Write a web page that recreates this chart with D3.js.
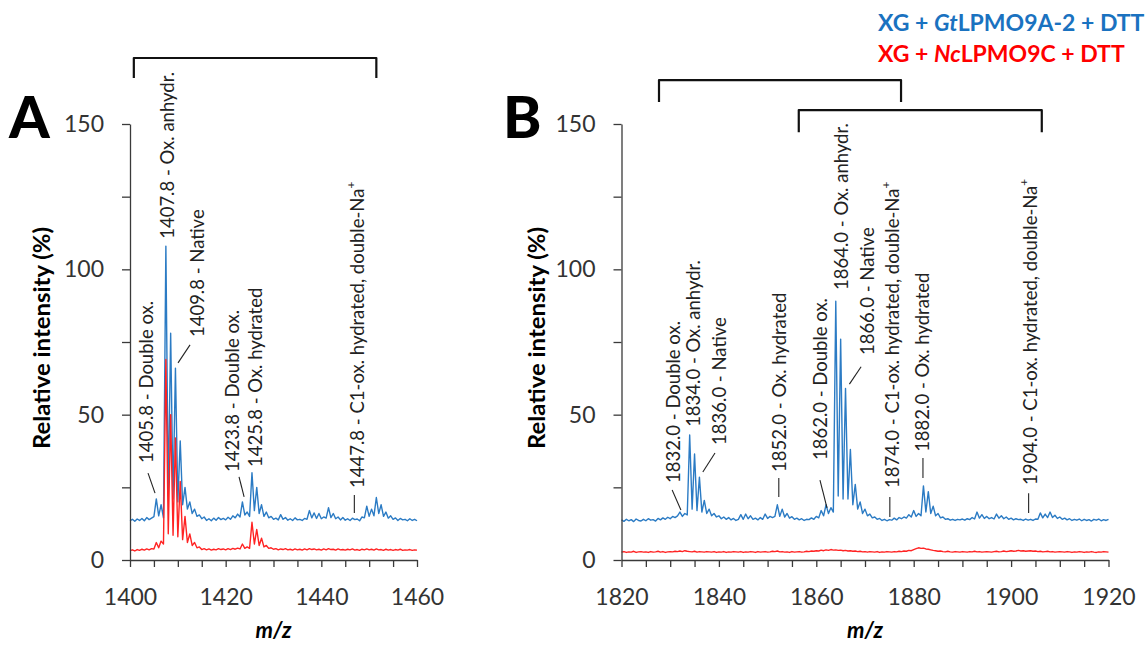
<!DOCTYPE html>
<html><head><meta charset="utf-8">
<script src="https://cdn.jsdelivr.net/npm/d3@7"></script>
<style>body{margin:0;background:#fff;} svg{display:block;font-family:Lato,'Open Sans',sans-serif;}</style>
</head><body><svg id="c" width="1148" height="646"></svg>
<script>
// ---------- DATA ----------
const mzA = [1400,1400.5,1401,1401.5,1402,1402.5,1403,1403.5,1404,1404.5,1405,1405.5,1406,1406.5,1407,1407.5,1408,1408.5,1409,1409.5,1410,1410.5,1411,1411.5,1412,1412.5,1413,1413.5,1414,1414.5,1415,1415.5,1416,1416.5,1417,1417.5,1418,1418.5,1419,1419.5,1420,1420.5,1421,1421.5,1422,1422.5,1423,1423.5,1424,1424.5,1425,1425.5,1426,1426.5,1427,1427.5,1428,1428.5,1429,1429.5,1430,1430.5,1431,1431.5,1432,1432.5,1433,1433.5,1434,1434.5,1435,1435.5,1436,1436.5,1437,1437.5,1438,1438.5,1439,1439.5,1440,1440.5,1441,1441.5,1442,1442.5,1443,1443.5,1444,1444.5,1445,1445.5,1446,1446.5,1447,1447.5,1448,1448.5,1449,1449.5,1450,1450.5,1451,1451.5,1452,1452.5,1453,1453.5,1454,1454.5,1455,1455.5,1456,1456.5,1457,1457.5,1458,1458.5,1459,1459.5,1460];
const blueA = [13.5,14.0,13.3,14.1,13.6,14.3,13.5,14.6,13.9,14.4,
14.9,21.0,15.2,19.0,14.5,108,22,78,21,66,
20,41,19,25,17.5,20,16,17.5,15,15.5,
14.2,14.8,13.6,14.2,13.5,14.4,13.7,14.6,13.9,14.3,
13.8,14.7,14.0,15.2,14.5,15.8,14.8,20.0,15.5,16.5,
15.0,30.0,17.0,25.0,16.0,19.0,15.0,16.5,14.5,15.0,
14.0,14.4,13.8,15.6,14.0,14.6,13.7,14.2,13.6,14.5,
13.8,14.0,13.6,14.3,14.0,17.0,14.5,16.2,14.3,16.0,
14.2,14.8,14.4,18.0,14.6,16.0,14.2,14.8,13.8,14.6,
13.7,14.2,13.6,14.4,13.9,14.1,13.5,14.8,14.5,18.5,
15.0,17.5,15.2,21.5,16.0,19.0,15.0,16.5,14.4,15.2,
14.0,14.5,13.6,14.3,13.8,14.0,13.5,14.2,13.6,14.0,
13.5];
const redA = [3.2,3.5,3.1,3.6,3.3,3.7,3.4,3.8,3.5,3.9,
3.8,6.0,4.2,6.5,5.5,69,9,50,8.5,42,
8,27,7,15,6,9,5,6,4.2,4.5,
3.6,3.9,3.5,3.8,3.4,3.7,3.5,3.9,3.6,3.8,
3.5,3.9,3.6,4.0,3.7,4.1,3.8,5.5,4.0,4.5,
4.0,13,5.5,10.5,5.0,7.5,4.5,5.0,4.0,4.2,
3.7,3.9,3.5,3.8,3.6,3.9,3.5,3.7,3.4,3.8,
3.5,3.7,3.4,3.8,3.5,3.9,3.6,3.8,3.5,3.7,
3.4,3.8,3.5,3.9,3.6,3.7,3.4,3.8,3.5,3.6,
3.4,3.7,3.5,3.8,3.4,3.6,3.3,3.7,3.5,3.8,
3.5,3.7,3.4,3.8,3.5,3.6,3.3,3.7,3.4,3.6,
3.3,3.6,3.4,3.7,3.3,3.5,3.4,3.6,3.3,3.5,
3.4];

const mzB = [1820,1820.5,1821,1821.5,1822,1822.5,1823,1823.5,1824,1824.5,1825,1825.5,1826,1826.5,1827,1827.5,1828,1828.5,1829,1829.5,
1830,1830.5,1831,1831.5,1832,1832.5,1833,1833.5,1834,1834.5,1835,1835.5,1836,1836.5,1837,1837.5,1838,1838.5,1839,1839.5,
1840,1840.5,1841,1841.5,1842,1842.5,1843,1843.5,1844,1844.5,1845,1845.5,1846,1846.5,1847,1847.5,1848,1848.5,1849,1849.5,
1850,1850.5,1851,1851.5,1852,1852.5,1853,1853.5,1854,1854.5,1855,1855.5,1856,1856.5,1857,1857.5,1858,1858.5,1859,1859.5,
1860,1860.5,1861,1861.5,1862,1862.5,1863,1863.5,1864,1864.5,1865,1865.5,1866,1866.5,1867,1867.5,1868,1868.5,1869,1869.5,
1870,1870.5,1871,1871.5,1872,1872.5,1873,1873.5,1874,1874.5,1875,1875.5,1876,1876.5,1877,1877.5,1878,1878.5,1879,1879.5,
1880,1880.5,1881,1881.5,1882,1882.5,1883,1883.5,1884,1884.5,1885,1885.5,1886,1886.5,1887,1887.5,1888,1888.5,1889,1889.5,
1890,1890.5,1891,1891.5,1892,1892.5,1893,1893.5,1894,1894.5,1895,1895.5,1896,1896.5,1897,1897.5,1898,1898.5,1899,1899.5,
1900,1900.5,1901,1901.5,1902,1902.5,1903,1903.5,1904,1904.5,1905,1905.5,1906,1906.5,1907,1907.5,1908,1908.5,1909,1909.5,
1910,1910.5,1911,1911.5,1912,1912.5,1913,1913.5,1914,1914.5,1915,1915.5,1916,1916.5,1917,1917.5,1918,1918.5,1919,1919.5,
1920];
const blueB = [13.8,13.3,14.0,13.5,13.9,13.2,14.1,13.6,13.4,14.0,
13.5,14.2,13.7,13.9,13.4,14.3,13.8,14.5,14.0,14.7,
14.2,15.0,14.6,15.2,16.5,15.0,16.0,15.5,43,17.5,
36.5,17.0,28.5,16.5,20.5,16.0,17.5,15.2,16.0,14.8,
15.2,14.2,14.8,14.0,14.6,13.8,14.3,13.6,14.0,15.6,
14.0,15.8,14.2,15.2,14.0,14.4,13.8,14.6,14.0,15.8,
14.3,15.0,14.6,15.0,19.0,15.0,17.5,14.8,16.0,14.4,
14.9,14.0,14.4,13.8,14.2,13.6,14.0,13.9,14.5,14.0,
15.0,14.5,17.0,15.2,19.0,16.0,18.0,16.5,89,22,
76,21,59,21,38,19,26,17.5,20,16,
17.5,15.2,15.8,14.5,14.8,14.0,14.3,13.6,14.0,13.5,
13.9,13.7,14.4,13.8,14.6,14.2,14.8,14.4,15.6,14.8,
17.0,15.0,16.0,15.2,25.5,16.5,23.5,16.0,18.5,15.2,
16.0,14.5,14.8,14.0,14.2,13.7,14.0,13.6,14.0,13.8,
14.1,13.7,14.2,13.9,14.6,14.1,16.5,14.4,15.6,14.3,
15.0,14.2,14.6,14.1,15.8,14.4,15.2,14.2,14.8,14.0,
14.4,13.8,14.2,13.9,14.0,13.6,14.1,13.7,14.0,13.6,
14.1,14.0,16.2,14.5,15.8,14.6,16.5,14.6,15.4,14.3,
14.8,14.0,14.4,13.8,14.2,13.6,14.0,13.7,14.1,13.5,
14.0,13.6,13.9,13.4,14.0,13.7,14.1,13.5,13.9,13.6,
14.0];
const redB = [2.7,2.9,2.6,2.8,2.7,3.0,2.6,2.8,2.9,2.7,
2.8,2.6,2.9,2.7,2.8,3.0,2.7,2.9,2.6,2.8,
2.9,2.8,3.0,2.9,3.1,2.9,3.2,3.0,2.9,2.8,
3.0,2.7,2.9,2.8,2.7,2.9,2.8,2.7,2.9,2.6,
2.8,2.7,2.9,2.6,2.8,2.7,2.9,2.8,2.7,2.9,
2.6,2.8,2.7,2.9,2.8,2.6,2.9,2.7,2.8,2.9,
2.7,2.8,3.0,2.9,3.1,2.8,2.9,2.7,2.8,2.6,
2.9,2.7,2.8,2.9,2.7,2.8,3.0,2.9,3.1,3.0,
3.2,3.1,3.4,3.2,3.5,3.3,3.6,3.4,3.5,3.3,
3.4,3.2,3.3,3.1,3.2,3.0,3.1,2.9,3.0,2.8,
2.9,2.7,2.9,2.8,2.7,2.9,2.6,2.8,2.7,2.9,
2.8,2.7,2.9,2.8,3.0,2.9,3.1,3.0,3.3,3.2,
3.6,3.9,4.2,4.0,4.1,3.8,3.7,3.5,3.3,3.2,
3.0,3.1,2.9,2.8,3.0,2.8,2.7,2.9,2.8,2.7,
2.9,2.8,2.7,2.9,2.8,3.0,2.8,2.9,2.7,2.8,
2.9,2.8,2.7,2.9,3.0,2.8,2.9,3.1,2.9,3.0,
3.2,3.0,3.1,3.3,3.1,3.2,3.0,3.1,3.2,3.0,
3.1,2.9,3.0,2.8,2.9,3.0,2.8,2.9,2.7,2.8,
2.9,2.8,2.7,2.9,2.8,2.6,2.8,2.7,2.9,2.8,
2.6,2.8,2.7,2.9,2.7,2.6,2.8,2.7,2.9,2.8,
2.7];

const yTicks = [0,25,50,75,100,125,150];
const yTickLabels = [0,50,100,150];
const xTicksA = [1400,1405,1410,1415,1420,1425,1430,1435,1440,1445,1450,1455,1460];
const xTickLabelsA = [1400,1420,1440,1460];
const xTicksB = [1820,1825,1830,1835,1840,1845,1850,1855,1860,1865,1870,1875,1880,1885,1890,1895,1900,1905,1910,1915,1920];
const xTickLabelsB = [1820,1840,1860,1880,1900,1920];
const seriesNames = [["XG + ", "Gt", "LPMO9A-2 + DTT"], ["XG + ", "Nc", "LPMO9C + DTT"]];

const annotA = [
  {text:"1405.8 - Double ox.", mz:1403.35, v:33.4, lead:[1403.77,29.9,1405.23,23.0]},
  {text:"1407.8 - Ox. anhydr.", mz:1407.74, v:110.5},
  {text:"1409.8 - Native", mz:1414.2, v:76.7, lead:[1412.55,74,1410.04,67.8]},
  {text:"1423.8 - Double ox.", mz:1421.5, v:30.3, lead:[1422.8,28.6,1423.85,21.7]},
  {text:"1425.8 - Ox. hydrated", mz:1426.15, v:32.0},
  {text:"1447.8 - C1-ox. hydrated, double-Na", sup:"+", mz:1447.5, v:24.8, lead:[1446.9,22.4,1446.9,16.2]}
];
const annotB = [
  {text:"1832.0 - Double ox.", mz:1830.6, v:26.5, lead:[1830.4,24.1,1832.2,17.2]},
  {text:"1834.0 - Ox. anhydr.", mz:1834.7, v:45.8},
  {text:"1836.0 - Native", mz:1840.2, v:39.6, lead:[1839.2,36.8,1836.7,30.3]},
  {text:"1852.0 - Ox. hydrated", mz:1852.5, v:30.3, lead:[1852.3,28.2,1852.3,21.7]},
  {text:"1862.0 - Double ox.", mz:1860.8, v:34.4, lead:[1860.75,27.5,1862.2,17.9]},
  {text:"1864.0 - Ox. anhydr.", mz:1865.2, v:92.9},
  {text:"1866.0 - Native", mz:1870.6, v:70.5, lead:[1869.2,66.5,1866.8,60.5]},
  {text:"1874.0 - C1-ox. hydrated, double-Na", sup:"+", mz:1875.6, v:24.8, lead:[1875.1,21.7,1875.1,14.8]},
  {text:"1882.0 - Ox. hydrated", mz:1881.9, v:37.2, lead:[1881.9,35.1,1881.9,28.2]},
  {text:"1904.0 - C1-ox. hydrated, double-Na", sup:"+", mz:1903.9, v:25.8, lead:[1903.6,23.0,1903.6,16.2]}
];
// brackets in data units [x1, x2, yTop, yBottom]
const bracketsA = [[1400.8, 1451.5, 172.7, 165.8]];
const bracketsB = [[1827.7, 1877.4, 165.1, 157.6], [1856.4, 1906.3, 154.8, 147.2]];

// ---------- DRAW ----------
const BLUE = "#2b7bc4", RED = "#ff2323", AX = "#3a3a3a";
const svg = d3.select("#c");

function panel(cfg){
  const x = d3.scaleLinear().domain(cfg.domain).range(cfg.range);
  const y = d3.scaleLinear().domain([0,150]).range([560,124]);
  const g = svg.append("g");

  const line = d3.line().x((d,i)=>x(cfg.mz[i])).y(d=>y(d));
  g.append("path").datum(cfg.blue).attr("d", line).attr("fill","none").attr("stroke",BLUE).attr("stroke-width",1.4).attr("stroke-linejoin","round");
  g.append("path").datum(cfg.red).attr("d", line).attr("fill","none").attr("stroke",RED).attr("stroke-width",1.4).attr("stroke-linejoin","round");

  const ya = g.append("g").attr("transform",`translate(${cfg.range[0]},0)`)
    .call(d3.axisLeft(y).tickValues(yTicks).tickSize(8).tickSizeOuter(0).tickPadding(18)
      .tickFormat(d => yTickLabels.includes(d) ? d : ""));
  const xa = g.append("g").attr("transform","translate(0,560)")
    .call(d3.axisBottom(x).tickValues(cfg.xTicks).tickSize(7).tickSizeOuter(0).tickPadding(22)
      .tickFormat(d => cfg.xLabels.includes(d) ? d : ""));
  [ya, xa].forEach(a => {
    a.selectAll("path,line").attr("stroke",AX).attr("stroke-width",1.3);
    a.selectAll("text").attr("fill","#333").style("font-size","23px").style("font-family","Lato, sans-serif");
  });

  // annotations
  cfg.annot.forEach(a => {
    const t = g.append("text")
      .attr("transform",`translate(${x(a.mz)},${y(a.v)}) rotate(-90)`)
      .attr("dy","0.35em").attr("fill","#222").style("font-size","18.5px");
    t.append("tspan").text(a.text);
    if (a.sup) t.append("tspan").attr("dy","-0.75em").style("font-size","12px").text(a.sup);
    if (a.lead) g.append("line")
      .attr("x1",x(a.lead[0])).attr("y1",y(a.lead[1]))
      .attr("x2",x(a.lead[2])).attr("y2",y(a.lead[3]))
      .attr("stroke","#222").attr("stroke-width",1.1);
  });

  // brackets
  cfg.brackets.forEach(b => {
    const p = d3.path();
    p.moveTo(x(b[0]), y(b[3])); p.lineTo(x(b[0]), y(b[2])); p.lineTo(x(b[1]), y(b[2])); p.lineTo(x(b[1]), y(b[3]));
    g.append("path").attr("d", p.toString()).attr("fill","none").attr("stroke","#111").attr("stroke-width",2.2).attr("stroke-linejoin","round");
  });

  // panel letter
  g.append("text").attr("x",cfg.letterX).attr("y",138).text(cfg.letter)
    .style("font-size","58px").style("font-weight","900").attr("fill","#000");
  // y title
  g.append("text").attr("transform",`translate(${cfg.yTitleX},338) rotate(-90)`)
    .attr("text-anchor","middle").attr("textLength",222).attr("lengthAdjust","spacingAndGlyphs")
    .style("font-size","22px").style("font-weight","700").attr("fill","#000")
    .text("Relative intensity (%)");
  // x title
  g.append("text").attr("x",(cfg.range[0]+cfg.range[1])/2).attr("y",638).attr("text-anchor","middle")
    .style("font-size","22px").style("font-weight","700").style("font-style","italic").attr("fill","#000")
    .text("m/z");
}

panel({domain:[1400,1460], range:[130,417], mz:mzA, blue:blueA, red:redA, xTicks:xTicksA, xLabels:xTickLabelsA,
  annot:annotA, brackets:bracketsA, letter:"A", letterX:9, yTitleX:50});
panel({domain:[1820,1920], range:[621.5,1108.5], mz:mzB, blue:blueB, red:redB, xTicks:xTicksB, xLabels:xTickLabelsB,
  annot:annotB, brackets:bracketsB, letter:"B", letterX:503, yTitleX:545});

// legend
const legColors = ["#1a72c0", "#ff0000"];
seriesNames.forEach((parts, i) => {
  const t = svg.append("text").attr("x",878).attr("y",31 + i*31)
    .style("font-size","23px").style("font-weight","700").attr("fill",legColors[i]);
  t.append("tspan").text(parts[0]);
  t.append("tspan").style("font-style","italic").text(parts[1]);
  t.append("tspan").text(parts[2]);
});
</script>
</body></html>
